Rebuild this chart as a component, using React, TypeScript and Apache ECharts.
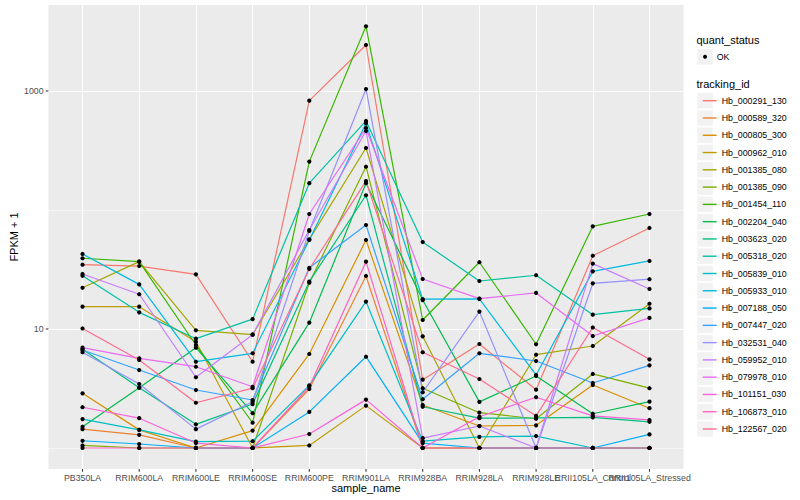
import React, { useEffect, useRef } from "react";
import * as echarts from "echarts";

const samples = [
  "PB350LA", "RRIM600LA", "RRIM600LE", "RRIM600SE", "RRIM600PE", "RRIM901LA",
  "RRIM928BA", "RRIM928LA", "RRIM928LE", "RRII105LA_Control", "RRII105LA_Stressed",
];

// FPKM + 1 per sample (order of samples)
const hb_000291_130 = [34.7, 33.8, 28.8, 5.31, 829, 2436, 3.75, 7.48, 3.09, 41.3, 70.6];
const hb_000589_320 = [1.44, 1.29, 1, 1, 3.13, 27.9, 1, 1, 1, 1, 1];
const hb_000805_300 = [2.88, 1.42, 1, 1.4, 6.17, 56.0, 2.3, 1.53, 1.55, 3.38, 2.16];
const hb_000962_010 = [15.4, 15.4, 7.8, 1, 1.05, 2.27, 1, 1, 1, 1, 1];
const hb_001385_080 = [22.2, 36.8, 9.75, 8.96, 56.7, 332, 8.68, 1, 6.08, 7.2, 16.3];
const hb_001385_090 = [1.05, 1, 1, 1, 24.5, 231, 3.18, 1.98, 1.76, 4.19, 3.18];
const hb_001454_110 = [39.3, 36.8, 7.34, 1.63, 255, 3498, 11.9, 36.4, 7.44, 72.9, 92.5];
const hb_002204_040 = [1.51, 3.21, 6.97, 1.96, 11.3, 168, 17.5, 2.44, 4.03, 1.94, 2.45];
const hb_003623_020 = [6.75, 3.21, 1.58, 2.34, 25.0, 133, 2.22, 1.78, 1.79, 1.81, 1.66];
const hb_005318_020 = [28.0, 13.8, 8.29, 12.1, 168, 560, 53.8, 25.3, 28.3, 13.2, 14.9];
const hb_005839_010 = [1.75, 1.42, 1.13, 1.14, 3.36, 17.0, 1.14, 1.24, 1.26, 1, 1];
const hb_005933_010 = [42.7, 23.7, 5.31, 6.25, 56.0, 535, 17.8, 17.9, 4.11, 30.5, 37.3];
const hb_007188_050 = [1.15, 1.08, 1, 1, 2.01, 5.85, 1.1, 1, 1, 1, 1.3];
const hb_007447_020 = [6.66, 4.52, 3.07, 2.53, 32.7, 74.8, 2.57, 6.25, 5.38, 3.52, 4.95];
const hb_032531_040 = [6.37, 3.45, 1.44, 2.45, 66.6, 1039, 2.94, 14.0, 1, 24.2, 26.2];
const hb_059952_010 = [29.0, 19.6, 3.93, 8.96, 67.9, 461, 1.21, 1.53, 1, 35.4, 21.7];
const hb_079978_010 = [6.97, 5.67, 4.82, 3.27, 92.5, 489, 26.3, 18.0, 20.1, 8.73, 12.4];
const hb_101151_030 = [2.2, 1.78, 1.1, 1, 1.31, 2.55, 1, 1.83, 2.67, 1.86, 1.72];
const hb_106873_010 = [1, 1, 1, 1, 3.27, 36.8, 1, 1, 1, 1, 1];
const hb_122567_020 = [10.1, 5.49, 2.4, 3.18, 31.9, 175, 6.37, 3.8, 1.86, 10.3, 5.56];

const trackingIds = [
  "Hb_000291_130", "Hb_000589_320", "Hb_000805_300", "Hb_000962_010", "Hb_001385_080",
  "Hb_001385_090", "Hb_001454_110", "Hb_002204_040", "Hb_003623_020", "Hb_005318_020",
  "Hb_005839_010", "Hb_005933_010", "Hb_007188_050", "Hb_007447_020", "Hb_032531_040",
  "Hb_059952_010", "Hb_079978_010", "Hb_101151_030", "Hb_106873_010", "Hb_122567_020",
];
const seriesValues = [
  hb_000291_130, hb_000589_320, hb_000805_300, hb_000962_010, hb_001385_080,
  hb_001385_090, hb_001454_110, hb_002204_040, hb_003623_020, hb_005318_020,
  hb_005839_010, hb_005933_010, hb_007188_050, hb_007447_020, hb_032531_040,
  hb_059952_010, hb_079978_010, hb_101151_030, hb_106873_010, hb_122567_020,
];
const colors = [
  "#F8766D", "#EA8331", "#D89000", "#C09B00", "#A3A500", "#7CAE00", "#39B600",
  "#00BB4E", "#00BF7D", "#00C1A3", "#00BFC4", "#00BAE0", "#00B0F6", "#35A2FF",
  "#9590FF", "#C77CFF", "#E76BF3", "#FA62DB", "#FF62BC", "#FF6C91",
];
const yMajorTicks = [10, 1000];
const yMinorTicks = [1, 100];
const quantStatus = ["OK"];

const FONT = "Liberation Sans, Arial, Helvetica, sans-serif";

export default function App() {
  const ref = useRef<HTMLDivElement>(null);
  useEffect(() => {
    if (!ref.current) return;
    const chart = echarts.init(ref.current, undefined, { renderer: "svg" });

    const lineSeries = trackingIds.map((id, k) => ({
      name: id,
      type: "line",
      data: seriesValues[k].map((v, i) => [i, v]),
      symbol: "none",
      z: 2,
      lineStyle: { color: colors[k], width: 1.2 },
      itemStyle: { color: colors[k] },
      silent: true,
    }));

    const points: number[][] = [];
    seriesValues.forEach((vals) => vals.forEach((v, i) => points.push([i, v])));

    const isMajor = (v: number) => yMajorTicks.some((t) => Math.abs(Math.log10(v) - Math.log10(t)) < 1e-6);

    const keyTop = 92.06;
    const pitch = 17.28;
    const keyRects = trackingIds.map((_, i) => ({
      type: "rect",
      z: 0,
      shape: { x: 697.3, y: keyTop + i * pitch + 0.9, width: 15.5, height: 15.5 },
      style: { fill: "#F2F2F2" },
      silent: true,
    }));

    chart.setOption({
      animation: false,
      textStyle: { fontFamily: FONT },
      color: colors,
      grid: {
        left: 45.3, right: 116.5, top: 5, bottom: 31,
        show: true, backgroundColor: "#EBEBEB", borderWidth: 0,
      },
      xAxis: {
        type: "value",
        min: -0.6,
        max: 10.6,
        minInterval: 1,
        maxInterval: 1,
        axisLine: { show: false },
        axisTick: { show: false },
        splitLine: { show: false },
        axisLabel: {
          showMinLabel: false,
          showMaxLabel: false,
          margin: 0,
          formatter: (v: number) =>
            Number.isInteger(v) && v >= 0 && v < samples.length ? `{t|}\n{l|${samples[v]}}` : "",
          rich: {
            t: { width: 1.07, height: 2.75, lineHeight: 2.75, backgroundColor: "#333333" },
            l: { fontSize: 8.8, color: "#4D4D4D", lineHeight: 10, padding: [1.5, 0, 0, 0], fontFamily: FONT },
          },
        },
        name: "sample_name",
        nameLocation: "middle",
        nameGap: 13,
        nameMoveOverlap: false,
        nameTextStyle: { fontSize: 11, color: "#000000", fontFamily: FONT },
      },
      yAxis: {
        type: "log",
        logBase: 10,
        min: 0.666,
        max: 5280,
        axisLine: { show: false },
        axisTick: { show: false },
        splitLine: { show: false },
        axisLabel: {
          showMinLabel: false,
          showMaxLabel: false,
          margin: 0,
          formatter: (v: number) => (isMajor(v) ? `{l|${Math.round(v)}}{t|}` : ""),
          rich: {
            l: { fontSize: 8.8, color: "#4D4D4D", padding: [0, 2.2, 0, 0], fontFamily: FONT },
            t: { width: 2.75, height: 1.07, backgroundColor: "#333333" },
          },
        },
        name: "FPKM + 1",
        nameLocation: "middle",
        nameRotate: 90,
        nameGap: 29.5,
        nameMoveOverlap: false,
        nameTextStyle: { fontSize: 11, color: "#000000", fontFamily: FONT },
      },
      legend: {
        data: trackingIds,
        orient: "vertical",
        left: 697.7,
        top: keyTop - 5,
        icon: "rect",
        itemWidth: 14,
        itemHeight: 1.4,
        itemGap: 0,
        selectedMode: false,
        textStyle: { fontSize: 8.8, lineHeight: pitch, color: "#000000", fontFamily: FONT },
      },
      graphic: [
        {
          type: "text", left: 696.5, top: 34.5, silent: true,
          style: { text: "quant_status", fontSize: 11, fill: "#000000", fontFamily: FONT },
        },
        {
          type: "rect", silent: true,
          shape: { x: 697.3, y: 49.1, width: 15.5, height: 15.5 },
          style: { fill: "#F2F2F2" },
        },
        {
          type: "circle", silent: true,
          shape: { cx: 705.05, cy: 56.85, r: 2 },
          style: { fill: "#000000" },
        },
        {
          type: "text", left: 716.7, top: 52.3, silent: true,
          style: { text: quantStatus[0], fontSize: 8.8, fill: "#000000", fontFamily: FONT },
        },
        {
          type: "text", left: 696.5, top: 78.2, silent: true,
          style: { text: "tracking_id", fontSize: 11, fill: "#000000", fontFamily: FONT },
        },
        ...keyRects,
      ],
      series: [
        {
          name: "grid",
          type: "line",
          data: [],
          z: 1,
          silent: true,
          markLine: {
            z: 1,
            silent: true,
            symbol: ["none", "none"],
            label: { show: false },
            animation: false,
            data: [
              ...yMinorTicks.map((v) => ({ yAxis: v, lineStyle: { color: "#FFFFFF", width: 0.53, type: "solid" } })),
              ...yMajorTicks.map((v) => ({ yAxis: v, lineStyle: { color: "#FFFFFF", width: 1.07, type: "solid" } })),
              ...samples.map((_, i) => ({ xAxis: i, lineStyle: { color: "#FFFFFF", width: 1.07, type: "solid" } })),
            ],
          },
        },
        ...lineSeries,
        {
          name: quantStatus[0],
          type: "scatter",
          data: points,
          symbol: "circle",
          symbolSize: 4.2,
          z: 3,
          silent: true,
          itemStyle: { color: "#000000", opacity: 1 },
        },
      ],
    });
    return () => chart.dispose();
  }, []);
  return (
    <div
      ref={ref}
      style={{ position: "fixed", left: 0, top: 0, width: 800, height: 500, background: "#FFFFFF" }}
    />
  );
}
